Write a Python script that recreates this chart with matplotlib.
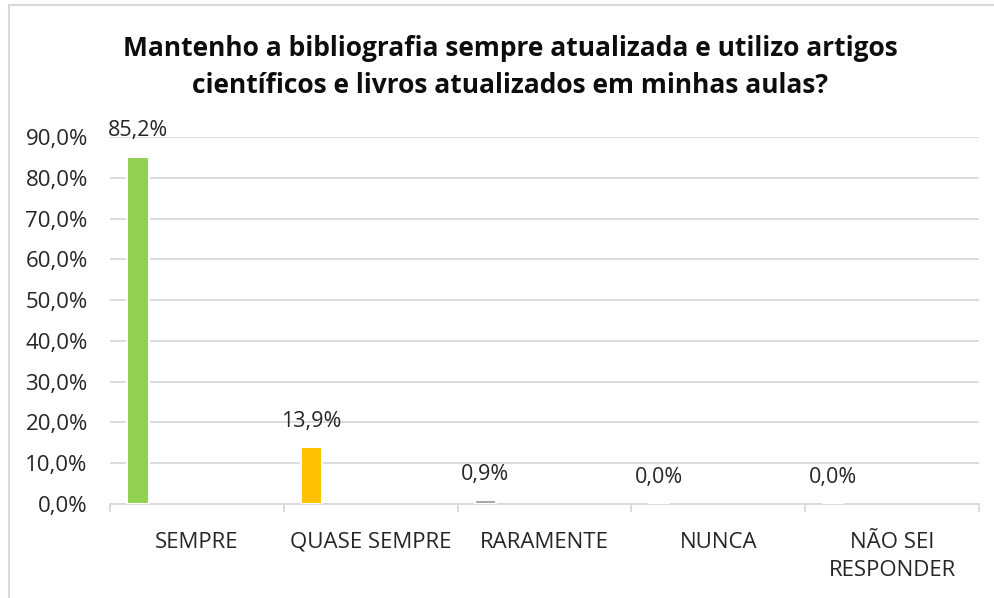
import numpy as np
import matplotlib.pyplot as plt
from matplotlib.patches import Rectangle

categorias = ['SEMPRE', 'QUASE SEMPRE', 'RARAMENTE', 'NUNCA', 'NÃO SEI\nRESPONDER']
valores = [85.2, 13.9, 0.9, 0.0, 0.0]
rotulos = ['85,2%', '13,9%', '0,9%', '0,0%', '0,0%']
cores = ['#92D050', '#FFC000', '#A5A5A5', '#5B9BD5', '#ED7D31']
titulo = 'Mantenho a bibliografia sempre atualizada e utilizo artigos\ncientíficos e livros atualizados em minhas aulas?'

W, H = 995, 598
fig = plt.figure(figsize=(W / 100, H / 100), dpi=100)
plt.rcParams['font.family'] = ['Open Sans', 'DejaVu Sans']

# plot area in pixels: x 110..979, y 137..504
ax = fig.add_axes([110 / W, 1 - 504 / H, (979 - 110) / W, (504 - 137) / H])

x = np.arange(len(categorias))
off = -0.34
ax.bar(x + off, valores, width=0.125, color=cores, edgecolor='white', linewidth=1.5, zorder=3)

for xi, v, r in zip(x, valores, rotulos):
    ax.text(xi + off, v + 6.4, r, ha='center', va='center', fontsize=15.5, color='#262626', zorder=4)

ax.set_xlim(-0.5, len(categorias) - 0.5)
ax.set_ylim(0, 90)
ax.set_yticks(np.arange(0, 91, 10))
ax.set_yticklabels([f'{v:.1f}%'.replace('.', ',') for v in np.arange(0, 91, 10)],
                   fontsize=16, color='#262626')
ax.yaxis.grid(True, color='#D9D9D9', linewidth=1.3, zorder=0)
ax.tick_params(axis='y', length=0, pad=16)

ax.set_xticks(np.arange(-0.5, len(categorias), 1), minor=True)
ax.set_xticks(x)
ax.set_xticklabels(categorias, fontsize=16, color='#262626', linespacing=1.45)
ax.tick_params(axis='x', which='major', length=0, pad=20)
ax.tick_params(axis='x', which='minor', length=6, color='#D9D9D9', width=1.3)

for s in ['top', 'right', 'left']:
    ax.spines[s].set_visible(False)
ax.spines['bottom'].set_color('#D9D9D9')
ax.spines['bottom'].set_linewidth(1.3)

fig.text(510 / W, 1 - 67 / H, titulo, ha='center', va='center', fontsize=19,
         fontweight='bold', color='#0D0D0D', linespacing=1.45)

# chart border
fig.patches.append(Rectangle((9 / W, -0.1), 1.2, 1 - 5 / H + 0.1, transform=fig.transFigure,
                             fill=False, edgecolor='#D9D9D9', linewidth=1.5))

fig.savefig('out.png', dpi=100)
